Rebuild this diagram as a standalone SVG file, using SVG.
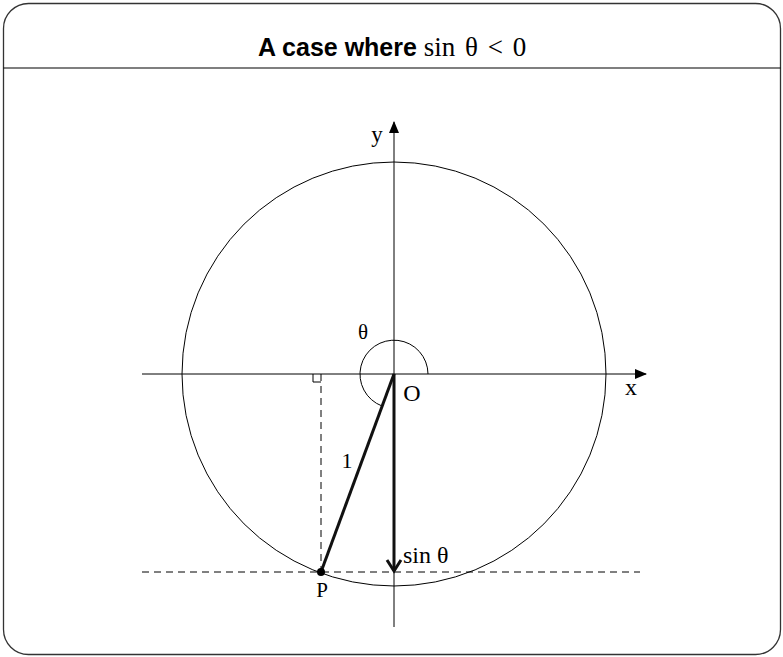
<svg xmlns="http://www.w3.org/2000/svg" width="783" height="657" viewBox="0 0 783 657">
<style>
.thin{fill:none;stroke:#000;stroke-width:1}
.thick{fill:none;stroke:#111;stroke-width:3}
.dash{fill:none;stroke:#000;stroke-width:1;stroke-dasharray:7,5}
.lbl{font-family:"Liberation Serif","DejaVu Serif",serif;fill:#000}
</style>
<defs>
<marker id="ah" markerWidth="12" markerHeight="10" refX="11" refY="5" orient="auto" markerUnits="userSpaceOnUse">
<path d="M0,0 L12,5 L0,10 Z" fill="#000"/>
</marker>
<marker id="vh" markerWidth="16" markerHeight="18" refX="13" refY="9" orient="auto" markerUnits="userSpaceOnUse">
<path d="M2,2 L13,9 L2,16" fill="none" stroke="#111" stroke-width="3"/>
</marker>
</defs>
<g id="frame">
<rect x="3.5" y="3.5" width="777" height="651" rx="25" ry="25" fill="#fff" stroke="#333" stroke-width="1.3"/>
<line x1="3.5" y1="68" x2="780.5" y2="68" stroke="#000" stroke-width="1.2"/>
<text x="258" y="56"><tspan font-family="Liberation Sans,Arial,sans-serif" font-weight="bold" font-size="25">A case where </tspan><tspan font-family="Liberation Serif,DejaVu Serif,serif" font-size="27" word-spacing="3">sin θ &lt; 0</tspan></text>
</g>
<g id="circle">
<circle cx="394" cy="374" r="212" class="thin"/>
</g>
<g id="connectors">
<line x1="142" y1="374" x2="646" y2="374" class="thin" marker-end="url(#ah)"/>
<line x1="394" y1="627" x2="394" y2="122" class="thin" marker-end="url(#ah)"/>
<line x1="142" y1="572" x2="640" y2="572" class="dash"/>
<line x1="321" y1="374" x2="321" y2="572" class="dash"/>
<path d="M313,374 V382 H321" class="thin"/>
<path d="M428,374 A34,34 0 1 0 382,406" class="thin"/>
<line x1="394" y1="374" x2="321" y2="572" class="thick"/>
<line x1="394" y1="374" x2="394" y2="571" class="thick" marker-end="url(#vh)"/>
</g>
<g id="P">
<circle cx="321" cy="572" r="4" fill="#000"/>
<text x="322" y="597" text-anchor="middle" class="lbl" font-size="21">P</text>
</g>
<g id="labels">
<text x="377" y="142" text-anchor="middle" class="lbl" font-size="23">y</text>
<text x="631" y="395" text-anchor="middle" class="lbl" font-size="24">x</text>
<text x="363" y="339" text-anchor="middle" class="lbl" font-size="21">θ</text>
<text x="412" y="401" text-anchor="middle" class="lbl" font-size="24">O</text>
<text x="347" y="468" text-anchor="middle" class="lbl" font-size="22">1</text>
<text x="403" y="563" class="lbl" font-size="24">sin θ</text>
</g>
</svg>
